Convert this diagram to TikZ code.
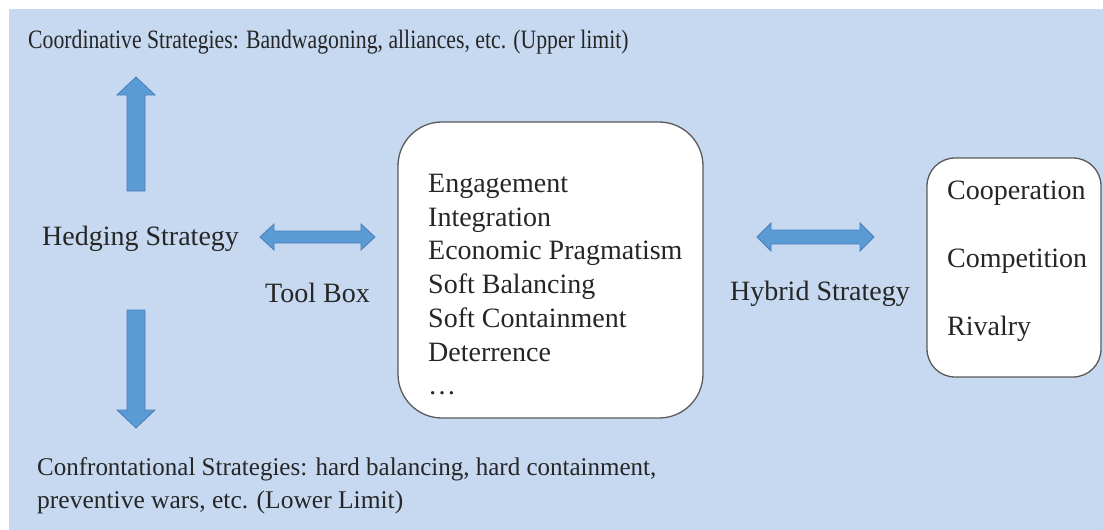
\documentclass[tikz,border=0pt]{standalone}
\usepackage{fontspec}
\setmainfont{Liberation Serif}
\definecolor{bg}{HTML}{C6D9F0}
\definecolor{arr}{HTML}{5B9BD5}
\definecolor{arredge}{HTML}{4A7EBB}
\definecolor{txt}{HTML}{262626}
\definecolor{boxedge}{HTML}{5A5A5A}
\tikzset{
  lbl/.style={anchor=base west, inner sep=0pt, text=txt, font=\fontsize{28}{34}\selectfont},
  limitlbl/.style={anchor=base west, inner sep=0pt, text=txt, font=\fontsize{25.5}{33}\selectfont},
  blockarrow/.style={fill=arr, draw=arredge, line width=0.8pt, line join=miter},
  roundbox/.style={fill=white, draw=boxedge, line width=1.3pt}
}
\newcommand\hdarrow[5]{%
  \filldraw[blockarrow] (#1,#3) -- (#1+14,#3-#5) -- (#1+14,#3-#4) -- (#2-14,#3-#4) -- (#2-14,#3-#5) -- (#2,#3) -- (#2-14,#3+#5) -- (#2-14,#3+#4) -- (#1+14,#3+#4) -- (#1+14,#3+#5) -- cycle;}
\begin{document}
\begin{tikzpicture}[x=1pt,y=-1pt]
\useasboundingbox (0,0) rectangle (1103,530);
\fill[white] (0,0) rectangle (1103,530);
\fill[bg] (9,9) rectangle (1103,530);

% boxes
\draw[roundbox, rounded corners=44pt] (398,122) rectangle (703,418);
\draw[roundbox, rounded corners=28pt] (927,158) rectangle (1101,377);

% top and bottom texts
\node[limitlbl, font=\fontsize{26.5}{32}\selectfont] (upper) at (28,48) {\scalebox{0.82}[1]{Coordinative Strategies: Bandwagoning, alliances, etc. (Upper limit)}};
\node[limitlbl] (lower1) at (37,475) {\scalebox{0.98}[1]{Confrontational Strategies: hard balancing, hard containment,}};
\node[limitlbl] (lower2) at (37,508) {preventive wars, etc. (Lower Limit)};

% side labels
\node[lbl] (hedge) at (42,245) {Hedging Strategy};
\node[lbl] (toolbox) at (265,302) {Tool Box};
\node[lbl] (hybrid) at (730,300) {Hybrid Strategy};

% tool box contents
\node[lbl] (t1) at (428,192) {Engagement};
\node[lbl] (t2) at (428,226) {Integration};
\node[lbl] (t3) at (428,259) {Economic Pragmatism};
\node[lbl] (t4) at (428,293) {Soft Balancing};
\node[lbl] (t5) at (428,327) {Soft Containment};
\node[lbl] (t6) at (428,361) {Deterrence};
\node[lbl] (t7) at (428,394) {\char"2026};

% hybrid contents
\node[lbl] (c1) at (947,199) {Cooperation};
\node[lbl] (c2) at (947,267) {Competition};
\node[lbl] (c3) at (947,335) {Rivalry};

% block arrows
\filldraw[blockarrow] (127,191) -- (127,95) -- (117,95) -- (136,77) -- (155,95) -- (145,95) -- (145,191) -- cycle;
\filldraw[blockarrow] (127,310) -- (145,310) -- (145,410) -- (155,410) -- (136,428) -- (117,410) -- (127,410) -- cycle;
\hdarrow{260}{375}{237}{6}{13}
\hdarrow{757}{874}{237}{7}{14}
\end{tikzpicture}
\end{document}
